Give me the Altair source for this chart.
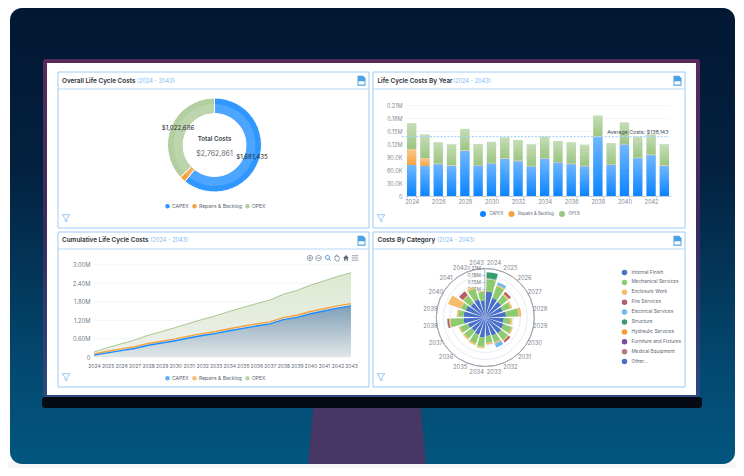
import math
import altair as alt
import pandas as pd

FONT = "Inter"
ONE = alt.Data(values=[{"a": 1}])

years = list(range(2024, 2044))

# --- yearly costs, thousands
capex_k = [72, 70, 74, 70, 105, 71, 76, 86, 81, 69, 87, 78, 74, 69, 137, 73, 120, 88, 95, 70]
repairs_k = [37, 18, 1, 1, 1, 1, 1, 1, 1, 1, 1, 1, 1, 1, 1, 1, 1, 1, 1, 1]
opex_k = [60, 55, 50, 49, 50, 49, 49, 49, 48, 50, 50, 49, 50, 49, 49, 49, 50, 49, 47, 49]
series_names = ["CAPEX", "Repairs & Backlog", "OPEX"]
series_colors = ["#0a84ff", "#f6a13f", "#9cc582"]
donut_values = [1681435, 58740, 1022686]
avg_cost = [138143]

bar_ticks = [0, 30000, 60000, 90000, 120000, 150000, 180000, 210000]
cum_ticks = [0, 600000, 1200000, 1800000, 2400000, 3000000]
polar_ticks = [30000, 60000, 90000, 120000, 150000, 180000, 210000]
polar_tick_labels = ["0.21M -", "0.18M -", "0.15M -", "0.12M -"]
polar_label_values = [210000, 180000, 150000, 120000]

# --- costs by category, thousands
cat_names = ["Internal Finish", "Mechanical Services", "Enclosure Work", "Fire Services",
             "Electrical Services", "Structure", "Hydraulic Services",
             "Furniture and Fixtures", "Medical Equipment", "Other..."]
cat_colors = ["#4a6fc9", "#8ccb6f", "#f6bd6c", "#b0606a", "#6cbcf0", "#3a9c6e",
              "#f59a30", "#7a4b9c", "#b07a80", "#4a6fc9"]
internal_finish = [111, 89, 86, 79, 89, 79, 83, 86, 83, 79, 86, 79, 74, 79, 93, 93, 89, 79, 83, 74]
mechanical = [53, 54, 36, 36, 54, 30, 37, 37, 31, 30, 40, 40, 40, 36, 57, 24, 21, 39, 49, 37]
enclosure = [2, 6, 7, 8, 8, 7, 7, 4, 6, 7, 7, 7, 7, 6, 6, 6, 60, 4, 9, 4]
fire = [0, 0, 10, 0, 0, 0, 0, 9, 0, 0, 0, 0, 0, 0, 7, 0, 0, 21, 0, 0]
electrical = [2, 11, 0, 0, 0, 0, 0, 0, 17, 0, 0, 0, 0, 0, 2, 0, 0, 0, 0, 0]
structure = [26, 0, 0, 0, 0, 0, 0, 0, 0, 0, 0, 0, 0, 0, 0, 0, 0, 0, 0, 0]
hydraulic = [0, 0, 0, 0, 3, 0, 0, 0, 0, 0, 0, 0, 0, 0, 0, 0, 0, 0, 0, 0]
furniture = [0] * 20
medical = [0] * 20
other = [0] * 20
cat_values = [internal_finish, mechanical, enclosure, fire, electrical, structure,
              hydraulic, furniture, medical, other]

# --- texts
panel_titles = ["Overall Life Cycle Costs", "Life Cycle Costs By Year",
                "Cumulative Life Cycle Costs", "Costs By Category"]
period = "(2024 - 2043)"
center_title = "Total Costs"
center_value = "$2,762,861"
donut_labels = ["$1,681,435", "$1,022,686"]
avg_label = "Average Costs: $138,143"


def X(v):
    return v - 8


def Y(v):
    return v - 8


def grad(stops, vertical=True):
    return alt.LinearGradient(
        gradient="linear", x1=0, x2=0, y1=0, y2=1,
        stops=[alt.GradientStop(offset=o, color=c) for o, c in stops])


def rect(x0, y0, x1, y1, **kw):
    return alt.Chart(ONE).mark_rect(**kw).encode(
        x=alt.value(X(x0)), x2=alt.value(X(x1)), y=alt.value(Y(y0)), y2=alt.value(Y(y1)))


def hline(x0, x1, y, color, width=1):
    return alt.Chart(ONE).mark_rule(color=color, strokeWidth=width).encode(
        x=alt.value(X(x0)), x2=alt.value(X(x1)), y=alt.value(Y(y)))


def text(s, x, y, size=6, color="#333", align="center", weight=400):
    return alt.Chart(ONE).mark_text(
        text=s, font=FONT, fontSize=size, color=color, align=align, baseline="middle",
        fontWeight=weight).encode(x=alt.value(X(x)), y=alt.value(Y(y)))


def icon(path, x, y, k, fill=None, stroke=None, width=0.8):
    kw = dict(shape=path, size=(2 * k) ** 2, opacity=1)
    if fill:
        kw.update(filled=True, fill=fill, strokeWidth=0)
    else:
        kw.update(filled=False, stroke=stroke, strokeWidth=width)
    return alt.Chart(ONE).mark_point(**kw).encode(x=alt.value(X(x)), y=alt.value(Y(y)))


def legend(x, y, direction="horizontal", size=20, font=5, col=3, row=0, off=2):
    return alt.Legend(orient="none", legendX=X(x), legendY=Y(y), direction=direction,
                      title=None, symbolType="circle", symbolSize=size, labelFontSize=font,
                      labelFont=FONT, labelColor="#5a6470", columnPadding=col, rowPadding=row,
                      labelOffset=off, symbolStrokeWidth=0, padding=0)


layers = []

# ------------------- frame
layers += [
    rect(8, 462, 736, 468, color="#000000", opacity=0.03),
    rect(10, 8, 735, 464, color=grad([(0, "#021732"), (0.35, "#03213f"), (0.8, "#034a72"), (1, "#02567e")]),
         cornerRadius=12),
    icon("M-0.91,-0.475 L0.91,-0.475 L1,0.475 L-1,0.475 Z", 367, 436, 59, fill="#473765"),
    rect(43, 59, 700, 397, color=grad([(0, "#5a2a5c"), (0.5, "#3a2a60"), (1, "#2a4a80")]), cornerRadius=3),
    rect(47, 63, 696, 395, color="#ffffff"),
    rect(42, 397, 702, 408, color="#060a14", cornerRadius=3),
]

# ------------------- panels
panels = [(58, 72, 369, 228, 89), (373, 72, 685, 228, 89),
          (58, 232, 369, 387, 249), (373, 232, 685, 387, 249)]
title_pos = [(62, 80.5, 137), (377.5, 80.5, 453), (62, 239.5, 150.5), (377.5, 239.5, 437)]
doc = "M-0.8,-1 L0.3,-1 L0.8,-0.5 L0.8,1 L-0.8,1 Z"
band = "M-0.6,0.1 L0.6,0.1 L0.6,0.75 L-0.6,0.75 Z"
funnel = "M-1,-1 L1,-1 L0.25,0 L0.25,0.9 L-0.25,0.6 L-0.25,0 Z"
for (x0, y0, x1, y1, yh), t, (tx, ty, px) in zip(panels, panel_titles, title_pos):
    layers += [
        rect(x0, y0, x1, y1, color="#ffffff", stroke="#9ccaf5", strokeWidth=1),
        hline(x0, x1, yh, "#b5d8f8"),
        text(t, tx, ty, size=6.4, color="#2a2f36", align="left", weight=600),
        text(period, px, ty, size=5.6, color="#7dbcf0", align="left"),
        icon(doc, x1 - 7.5, (y0 + yh) / 2 + 0.3, 5, fill="#4ba3e6"),
        icon(band, x1 - 7.5, (y0 + yh) / 2 + 0.3, 5, fill="#ffffff"),
        icon(funnel, x0 + 8, y1 - 9.5, 3.8, stroke="#7db8ee"),
    ]

# ------------------- donut
cx1, cy1 = 214.5, 145
starts = [sum(donut_values[:i]) for i in range(3)]
donut_df = pd.DataFrame({"series": series_names, "t0": starts,
                         "t1": [s + v for s, v in zip(starts, donut_values)]})
th_scale = alt.Scale(domain=[0, sum(donut_values)], range=[0, 2 * math.pi])
color_scale = alt.Scale(domain=series_names, range=["#2f97ff", "#f6a13f", "#b3cfa0"])
layers.append(alt.Chart(donut_df).mark_arc(outerRadius=47, innerRadius=31.5, stroke="#ffffff", strokeWidth=1).encode(
    x=alt.value(X(cx1)), y=alt.value(Y(cy1)),
    theta=alt.Theta("t0:Q", scale=th_scale, stack=None), theta2=alt.Theta2("t1"),
    color=alt.Color("series:N", scale=color_scale, legend=legend(165, 203.5))))
layers.append(alt.Chart(donut_df).mark_arc(outerRadius=41, innerRadius=32, color="#ffffff", opacity=0.14).encode(
    x=alt.value(X(cx1)), y=alt.value(Y(cy1)),
    theta=alt.Theta("t0:Q", scale=th_scale, stack=None), theta2=alt.Theta2("t1")))
layers += [
    text(center_title, cx1, 139, size=6.2, color="#3a3f46", weight=600),
    text(center_value, cx1, 153.5, size=7, color="#666c75"),
    text(donut_labels[0], 252, 156.7, size=6.2, color="#22262c"),
    text(donut_labels[1], 178, 127.7, size=6.2, color="#22262c"),
]

# ------------------- bars by year
bx0, bx1, by0, by1 = X(405), X(671), Y(196), Y(105.7)
x_band = alt.Scale(type="band", domain=years, range=[bx0, bx1], paddingInner=0.3, paddingOuter=0.15)
y_bar = alt.Scale(domain=[0, 210000], range=[by0, by1], nice=False, zero=True)
rows = []
for i, yr in enumerate(years):
    base = 0
    for name, arr in zip(series_names, [capex_k, repairs_k, opex_k]):
        rows.append({"year": yr, "series": name, "y0": base * 1000, "y1": (base + arr[i]) * 1000})
        base += arr[i]
bar_df = pd.DataFrame(rows)
fmt = ("datum.value==0?'0':datum.value<100000?format(datum.value/1000,'.1f')+'K'"
       ":format(datum.value/1000000,'.2f')+'M'")
layers.append(alt.Chart(pd.DataFrame({"t": bar_ticks[1:]})).mark_rule(color="#eef2f7", strokeWidth=0.8).encode(
    x=alt.value(bx0), x2=alt.value(bx1),
    y=alt.Y("t:Q", scale=y_bar, axis=alt.Axis(
        orient="left", offset=-bx0 + 1, values=bar_ticks, labelExpr=fmt, title=None, grid=False, domain=False,
        ticks=False, labelFontSize=5.6, labelFont=FONT, labelColor="#7f8a96", labelPadding=2, zindex=1))))
layers.append(alt.Chart(bar_df).mark_bar().encode(
    x=alt.X("year:O", scale=x_band, axis=alt.Axis(
        orient="bottom", offset=by0 - 460, values=years[::2], title=None, grid=False, labelAngle=0,
        tickBand="extent", tickSize=2, tickColor="#c8d0d8", domainColor="#c8d0d8", labelFontSize=5.6,
        labelFont=FONT, labelColor="#7f8a96", labelPadding=1, zindex=1)),
    y=alt.Y("y1:Q", scale=y_bar, axis=None, stack=None), y2=alt.Y2("y0"),
    color=alt.Color("series:N", scale=alt.Scale(domain=series_names, range=series_colors),
                    legend=legend(480, 211, size=36, font=4.2, col=4.5, off=3.5))))
layers.append(alt.Chart(bar_df).mark_bar(color=grad([(0, "rgba(255,255,255,0.42)"), (1, "rgba(255,255,255,0)")])).encode(
    x=alt.X("year:O", scale=x_band, axis=None),
    y=alt.Y("y1:Q", scale=y_bar, axis=None, stack=None), y2=alt.Y2("y0")))
layers.append(alt.Chart(pd.DataFrame({"avg": avg_cost})).mark_rule(color="#a8d4f8", strokeWidth=1.3, strokeDash=[2, 1.5]).encode(
    x=alt.value(bx0 - 3), x2=alt.value(bx1 - 2),
    y=alt.Y("avg:Q", scale=y_bar, axis=None)))
layers.append(text(avg_label, 668.5, 132, size=5.3, color="#4a525c", align="right"))

# ------------------- cumulative
x_cum = alt.Scale(domain=[2024, 2043], range=[X(94), X(351)], nice=False, zero=False)
y_cum = alt.Scale(domain=[0, 3000000], range=[Y(357.3), Y(264.7)], nice=False, zero=True)
cum_rows = []
c1 = c2 = c3 = 0
for i, yr in enumerate(years):
    c1 += capex_k[i] * 1000
    c2 += repairs_k[i] * 1000
    c3 += opex_k[i] * 1000
    cum_rows.append({"year": yr, "capex": c1, "rep": c1 + c2, "opex": c1 + c2 + c3})
cum_df = pd.DataFrame(cum_rows)
layers.append(alt.Chart(pd.DataFrame({"t": cum_ticks[1:]})).mark_rule(color="#eef1f5", strokeWidth=0.8).encode(
    x=alt.value(X(94)), x2=alt.value(X(351)),
    y=alt.Y("t:Q", scale=y_cum, axis=alt.Axis(
        orient="left", offset=-(X(94) - 4), values=cum_ticks, labelExpr=fmt, title=None, grid=False,
        domain=False, ticks=False, labelFontSize=5.8, labelFont=FONT, labelColor="#6f7a86", labelPadding=0, zindex=1))))
layers.append(alt.Chart(cum_df).mark_area(color=grad([(0, "#dde9d0"), (1, "#eef1ec")])).encode(
    x=alt.X("year:Q", scale=x_cum, axis=alt.Axis(
        orient="bottom", offset=Y(362) - 460, values=years, format="d", title=None, grid=False, domain=False,
        ticks=False, labelFontSize=5, labelFont=FONT, labelColor="#5f6a76", labelPadding=1, labelOverlap=False,
        labelFlush=False, zindex=1)),
    y=alt.Y("opex:Q", scale=y_cum, axis=None, stack=None)))
layers.append(alt.Chart(cum_df).mark_area(color=grad([(0, "#7f9fb8"), (1, "#e2e7e8")])).encode(
    x=alt.X("year:Q", scale=x_cum, axis=None),
    y=alt.Y("capex:Q", scale=y_cum, axis=None, stack=None)))
for fld, col, w in [("opex", "#a9c691", 1), ("rep", "#f6a13f", 1.4), ("capex", "#1a8cff", 1.4)]:
    layers.append(alt.Chart(cum_df).mark_line(color=col, strokeWidth=w).encode(
        x=alt.X("year:Q", scale=x_cum, axis=None),
        y=alt.Y(f"{fld}:Q", scale=y_cum, axis=None, stack=None)))
layers.append(alt.Chart(pd.DataFrame({"series": series_names})).mark_circle(size=0).encode(
    x=alt.value(0), y=alt.value(0),
    color=alt.Color("series:N", scale=alt.Scale(domain=series_names, range=["#1a8cff", "#f6a13f", "#a0c588"]),
                    legend=legend(165, 375.5))))
tool = "#7d8a99"
circ = "M-1,0 A1,1 0 1,1 1,0 A1,1 0 1,1 -1,0 Z"
layers += [
    icon(circ, 310, 258, 2.7, stroke=tool),
    icon("M-0.6,0 L0.6,0 M0,-0.6 L0,0.6", 310, 258, 2.7, stroke=tool),
    icon(circ, 318.5, 258, 2.7, stroke=tool),
    icon("M-0.6,0 L0.6,0", 318.5, 258, 2.7, stroke=tool),
    icon("M-0.9,-0.2 A0.7,0.7 0 1,1 0.5,-0.2 A0.7,0.7 0 1,1 -0.9,-0.2 M0.3,0.3 L1,1", 328, 258, 2.9, stroke="#4a90d9", width=1),
    icon("M-0.7,0.1 L-0.7,-0.5 L-0.3,-0.5 L-0.3,-1 L0.1,-1 L0.1,-0.5 L0.6,-0.5 L0.8,0.1 L0.5,1 L-0.3,1 Z", 337, 258, 3, stroke=tool),
    icon("M-1,0 L0,-1 L1,0 L0.65,0 L0.65,0.9 L0.2,0.9 L0.2,0.3 L-0.2,0.3 L-0.2,0.9 L-0.65,0.9 L-0.65,0 Z", 346, 258, 3, fill="#5f6b78"),
    icon("M-1,-0.7 L1,-0.7 M-1,0 L1,0 M-1,0.7 L1,0.7", 355, 258, 3.2, stroke=tool),
]

# ------------------- polar
cx4, cy4, R = 485.3, 317.5, 49
r_scale = alt.Scale(type="linear", domain=[0, 210000], range=[0, R], nice=False, zero=True)
a_scale = alt.Scale(domain=[0, 20], range=[0, 2 * math.pi], nice=False, zero=True)
layers.append(alt.Chart(pd.DataFrame({"t": polar_ticks})).mark_arc(fill=None, stroke="#e6ecf4", strokeWidth=0.7, theta=0, theta2=2 * math.pi).encode(
    x=alt.value(X(cx4)), y=alt.value(Y(cy4)),
    radius=alt.Radius("t:Q", scale=r_scale, stack=None), radius2=alt.Radius2("t")))
layers.append(alt.Chart(pd.DataFrame({"t": [210000]})).mark_arc(fill=None, stroke="#a3a7ac", strokeWidth=0.9, theta=0, theta2=2 * math.pi).encode(
    x=alt.value(X(cx4)), y=alt.value(Y(cy4)),
    radius=alt.Radius("t:Q", scale=r_scale, stack=None), radius2=alt.Radius2("t")))
y_pol = alt.Scale(domain=[0, 210000], range=[Y(cy4), Y(cy4 - R)], nice=False, zero=True)
layers.append(alt.Chart(pd.DataFrame({"t": polar_label_values, "s": polar_tick_labels})).mark_text(
    font=FONT, fontSize=4.8, color="#6f7780", align="right", baseline="middle").encode(
    x=alt.value(X(484.3)), y=alt.Y("t:Q", scale=y_pol, axis=None), text="s:N"))
pol_rows = []
for i, yr in enumerate(years):
    base = 0
    for name, arr in zip(cat_names, cat_values):
        if arr[i]:
            pol_rows.append({"a0": i + 0.1, "a1": i + 0.9, "series": name,
                             "r0": base * 1000, "r1": (base + arr[i]) * 1000})
            base += arr[i]
pol_df = pd.DataFrame(pol_rows)
layers.append(alt.Chart(pol_df).mark_arc().encode(
    x=alt.value(X(cx4)), y=alt.value(Y(cy4)),
    theta=alt.Theta("a0:Q", scale=a_scale, stack=None), theta2=alt.Theta2("a1"),
    radius=alt.Radius("r1:Q", scale=r_scale, stack=None), radius2=alt.Radius2("r0"),
    color=alt.Color("series:N", scale=alt.Scale(domain=cat_names, range=cat_colors),
                    legend=legend(621.5, 269.5, direction="vertical", size=30, font=4.8, row=3.9, off=4))))
layers.append(alt.Chart(pd.DataFrame({"t": [0], "t2": [210000]})).mark_rule(color="#9a9ea4", strokeWidth=0.8).encode(
    x=alt.value(X(cx4 - 0.5)), y=alt.Y("t:Q", scale=y_pol, axis=None), y2=alt.Y2("t2")))
lab_df = pd.DataFrame({"a": [i + 0.5 for i in range(20)], "year": [str(y) for y in years]})
layers.append(alt.Chart(lab_df).mark_text(font=FONT, fontSize=5.8, color="#7d8690", radius=55.5).encode(
    x=alt.value(X(cx4)), y=alt.value(Y(cy4)),
    theta=alt.Theta("a:Q", scale=a_scale, stack=None), text="year:N"))

chart = alt.layer(*layers).resolve_scale(
    x="independent", y="independent", color="independent", theta="independent", radius="independent"
).properties(
    width=728, height=460, padding=0, autosize=alt.AutoSizeParams(type="none"), background="#ffffff"
).configure_view(stroke=None)

chart.save("out.html", embed_options={"renderer": "svg", "actions": False})
